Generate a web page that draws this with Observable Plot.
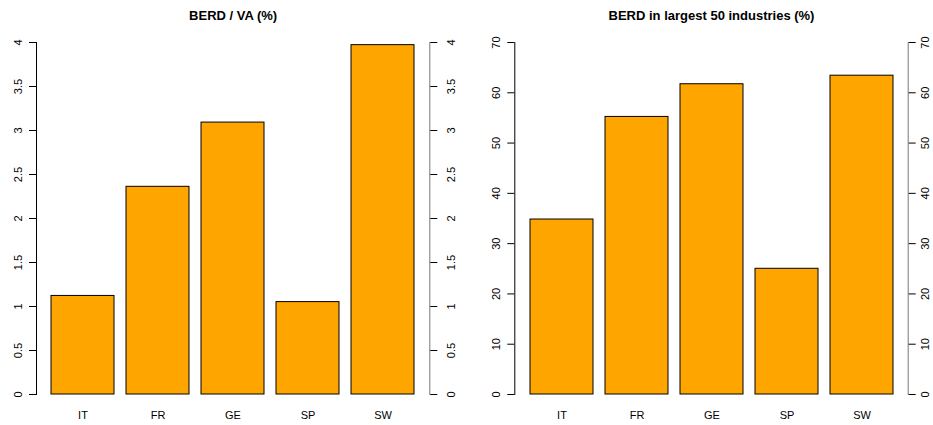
<!DOCTYPE html>
<html><head><meta charset="utf-8">
<script src="https://cdn.jsdelivr.net/npm/d3@7"></script>
<script src="https://cdn.jsdelivr.net/npm/@observablehq/plot@0.6"></script>
<style>
body{margin:0;background:#fff}
#c{display:flex;width:933px;height:425px}
#c svg{display:block}
</style>
</head><body><div id="c"></div>
<script>
const countries = ["IT", "FR", "GE", "SP", "SW"];
const berdVa = [1.12, 2.36, 3.09, 1.05, 3.97];
const berdTop50 = [34.8, 55.2, 61.7, 25.0, 63.4];
const vaTicks = [0, 0.5, 1, 1.5, 2, 2.5, 3, 3.5, 4];
const top50Ticks = [0, 10, 20, 30, 40, 50, 60, 70];
const titles = ["BERD / VA (%)", "BERD in largest 50 industries (%)"];

function panel({title, values, ticks, width, marginLeft, marginRight, rightPad}) {
  const data = countries.map((c, i) => ({country: c, value: values[i]}));
  const fmt = d => String(d);
  return Plot.plot({
    width, height: 425,
    marginTop: 42, marginBottom: 31, marginLeft, marginRight,
    style: {fontFamily: "'Liberation Sans', Arial, Helvetica, sans-serif", fontSize: "11px", color: "black", background: "white", overflow: "visible"},
    x: {domain: countries, paddingInner: 1/6, paddingOuter: 0.193},
    y: {domain: [ticks[0], ticks[ticks.length - 1]]},
    marks: [
      Plot.barY(data, {x: "country", y: "value", fill: "#FFA500", stroke: "black", strokeWidth: 1}),
      Plot.frame({anchor: "left", stroke: "black"}),
      Plot.frame({anchor: "right", stroke: "#777"}),
      Plot.axisY({anchor: "left", ticks, tickSize: 7, tickPadding: 8, tickRotate: -90, tickFormat: fmt, label: null, stroke: "black"}),
      Plot.axisY({anchor: "right", ticks, tickSize: 7, tickPadding: rightPad, tickRotate: -90, lineAnchor: "top", tickFormat: fmt, label: null, stroke: "black"}),
      Plot.axisX({anchor: "bottom", tickSize: 0, tickPadding: 17, label: null}),
      Plot.text([title], {frameAnchor: "top", lineAnchor: "bottom", dy: -23, text: d => d, fontWeight: "bold", fontSize: 13})
    ]
  });
}

const c = document.getElementById("c");
c.append(panel({title: titles[0], values: berdVa, ticks: vaTicks, width: 467, marginLeft: 36, marginRight: 37.7, rightPad: 10}));
c.append(panel({title: titles[1], values: berdTop50, ticks: top50Ticks, width: 466, marginLeft: 47.3, marginRight: 25.3, rightPad: 6}));
</script>
</body></html>
